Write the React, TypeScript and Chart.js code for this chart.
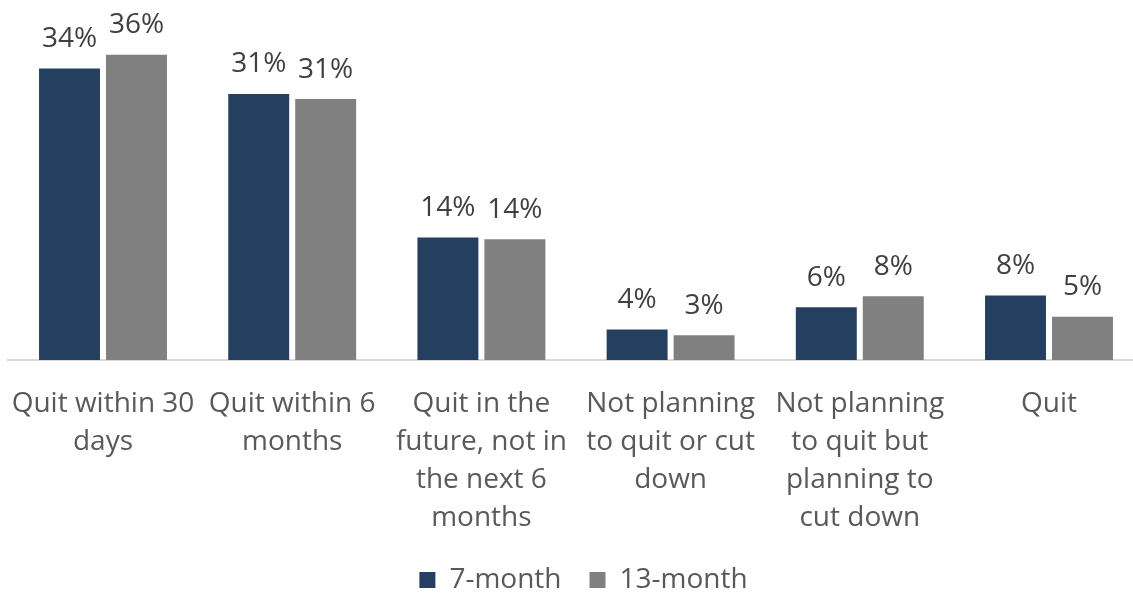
import React, { useEffect, useRef } from "react";
import { Chart, registerables } from "chart.js";

Chart.register(...registerables);

const categories: string[][] = [
  ["Quit within 30", "days"],
  ["Quit within 6", "months"],
  ["Quit in the", "future, not in", "the next 6", "months"],
  ["Not planning", "to quit or cut", "down"],
  ["Not planning", "to quit but", "planning to", "cut down"],
  ["Quit"],
];
const seriesNames = ["7-month", "13-month"];
const sevenMonth = [34.3, 31.3, 14.4, 3.6, 6.2, 7.6];
const thirteenMonth = [35.9, 30.7, 14.2, 2.9, 7.5, 5.1];
const seriesColors = ["#253F60", "#808080"];

const FONT = '"Open Sans", "DejaVu Sans", sans-serif';
const FONT_SIZE = 28;

const dataLabelPlugin = {
  id: "dataLabels",
  afterDatasetsDraw(chart: any) {
    const ctx = chart.ctx;
    ctx.save();
    ctx.font = `${FONT_SIZE}px ${FONT}`;
    ctx.fillStyle = "#404040";
    ctx.textAlign = "center";
    ctx.textBaseline = "alphabetic";
    chart.data.datasets.forEach((ds: any, i: number) => {
      const meta = chart.getDatasetMeta(i);
      meta.data.forEach((bar: any, j: number) => {
        ctx.fillText(Math.round(ds.data[j]) + "%", bar.x, bar.y - 21.5);
      });
    });
    ctx.restore();
  },
};

const legendShiftPlugin = {
  id: "legendShift",
  afterLayout(chart: any) {
    const l = chart.legend;
    if (l) {
      l.left += 7.5;
      l.right += 7.5;
    }
  },
};

export default function App() {
  const ref = useRef<HTMLCanvasElement>(null);
  useEffect(() => {
    const chart = new Chart(ref.current as HTMLCanvasElement, {
      type: "bar",
      data: {
        labels: categories,
        datasets: [
          {
            label: seriesNames[0],
            data: sevenMonth,
            backgroundColor: seriesColors[0],
            borderWidth: 0,
            categoryPercentage: 0.708,
            barPercentage: 0.91,
          },
          {
            label: seriesNames[1],
            data: thirteenMonth,
            backgroundColor: seriesColors[1],
            borderWidth: 0,
            categoryPercentage: 0.708,
            barPercentage: 0.91,
          },
        ],
      },
      options: {
        animation: false,
        responsive: false,
        devicePixelRatio: 1,
        layout: { padding: { left: 8.4, right: 6.4, top: 20, bottom: 0 } },
        scales: {
          x: {
            grid: { display: false, drawTicks: false },
            border: { display: true, color: "#D9D9D9", width: 2 },
            ticks: {
              color: "#595959",
              font: { family: FONT, size: FONT_SIZE, lineHeight: 38 / FONT_SIZE },
              padding: 25.5,
              maxRotation: 0,
              minRotation: 0,
              autoSkip: false,
            },
            afterFit: (scale: any) => {
              scale.height = 178;
              scale.paddingLeft = 0;
              scale.paddingRight = 0;
            },
          },
          y: { display: false, min: 0, max: 40 },
        },
        plugins: {
          legend: {
            position: "bottom",
            labels: {
              boxWidth: 16,
              boxHeight: 16,
              padding: 28,
              color: "#595959",
              font: { family: FONT, size: FONT_SIZE },
            },
          },
          tooltip: { enabled: false },
        },
      },
      plugins: [dataLabelPlugin, legendShiftPlugin],
    } as any);
    return () => chart.destroy();
  }, []);
  return (
    <div
      style={{
        position: "fixed",
        left: 0,
        top: 0,
        width: 1133,
        height: 596,
        overflow: "hidden",
        background: "#ffffff",
      }}
    >
      <canvas
        ref={ref}
        width={1150}
        height={604}
        style={{ display: "block", width: 1150, height: 604 }}
      />
    </div>
  );
}
